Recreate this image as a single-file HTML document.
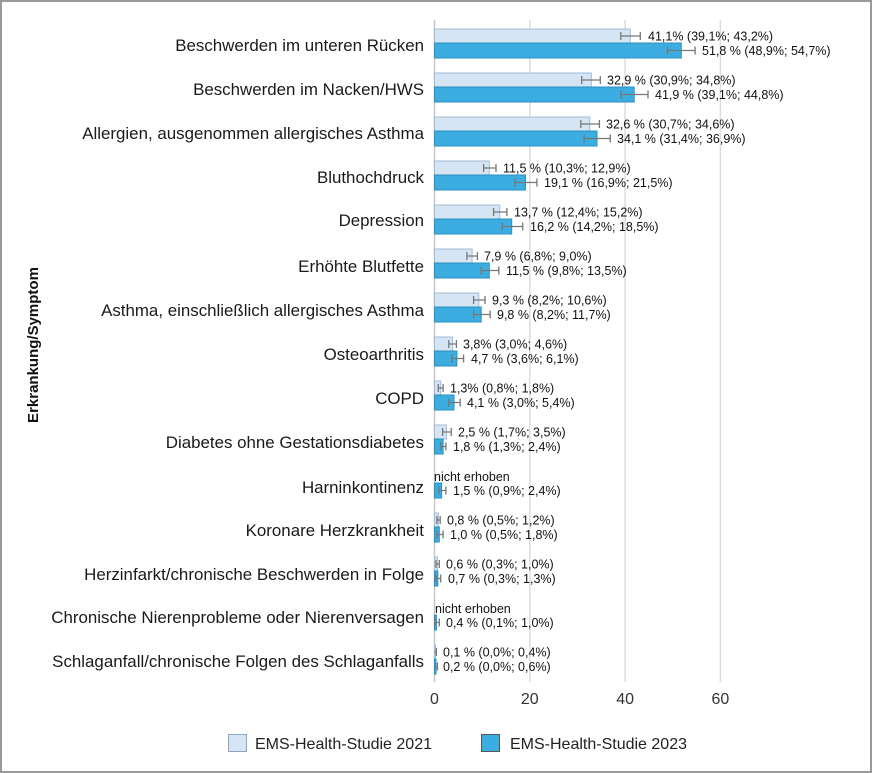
<!DOCTYPE html>
<html><head><meta charset="utf-8"><style>
html,body{margin:0;padding:0;background:#fff}
svg{display:block}
.c{font-family:"Liberation Sans",sans-serif;font-size:16.9px;fill:#1a1a1a;text-anchor:end}
.v{font-family:"Liberation Sans",sans-serif;font-size:12.5px;fill:#111}
.t{font-family:"Liberation Sans",sans-serif;font-size:16px;fill:#333;text-anchor:middle}
.a{fill:#d6e5f3;stroke:#a0bcd8;stroke-width:1}
.b{fill:#3cade0;stroke:#2b8fbf;stroke-width:1}
.e{stroke:#777;stroke-width:1.3;fill:none}
</style></head><body>
<svg width="872" height="773" viewBox="0 0 872 773" xmlns="http://www.w3.org/2000/svg">
<rect x="1" y="1" width="870" height="771" fill="#fff" stroke="#999" stroke-width="2"/>
<g stroke="#dcdcdc" stroke-width="1.5">
<line x1="529.8" y1="20" x2="529.8" y2="682"/>
<line x1="625.1" y1="20" x2="625.1" y2="682"/>
<line x1="720.4" y1="20" x2="720.4" y2="682"/>
</g>
<line x1="434.5" y1="20" x2="434.5" y2="682" stroke="#c8c8c8" stroke-width="1.5"/>
<text class="t" x="434.5" y="704">0</text>
<text class="t" x="529.8" y="704">20</text>
<text class="t" x="625.1" y="704">40</text>
<text class="t" x="720.4" y="704">60</text>
<text transform="translate(38,345) rotate(-90)" style="font-family:'Liberation Sans',sans-serif;font-size:15px;font-weight:bold;text-anchor:middle;fill:#111">Erkrankung/Symptom</text>

<g>
<text class="c" x="424" y="51">Beschwerden im unteren Rücken</text>
<text class="c" x="424" y="95">Beschwerden im Nacken/HWS</text>
<text class="c" x="424" y="139">Allergien, ausgenommen allergisches Asthma</text>
<text class="c" x="424" y="183">Bluthochdruck</text>
<text class="c" x="424" y="226">Depression</text>
<text class="c" x="424" y="272">Erhöhte Blutfette</text>
<text class="c" x="424" y="316">Asthma, einschließlich allergisches Asthma</text>
<text class="c" x="424" y="360">Osteoarthritis</text>
<text class="c" x="424" y="404">COPD</text>
<text class="c" x="424" y="448">Diabetes ohne Gestationsdiabetes</text>
<text class="c" x="424" y="493">Harninkontinenz</text>
<text class="c" x="424" y="536">Koronare Herzkrankheit</text>
<text class="c" x="424" y="580">Herzinfarkt/chronische Beschwerden in Folge</text>
<text class="c" x="424" y="623">Chronische Nierenprobleme oder Nierenversagen</text>
<text class="c" x="424" y="667">Schlaganfall/chronische Folgen des Schlaganfalls</text>
</g>

<g>
<rect class="a" x="434.5" y="29" width="195.8" height="14"/><rect class="b" x="434.5" y="43" width="246.8" height="15"/>
<rect class="a" x="434.5" y="73" width="156.8" height="14"/><rect class="b" x="434.5" y="87" width="199.7" height="15"/>
<rect class="a" x="434.5" y="117" width="155.3" height="14"/><rect class="b" x="434.5" y="131" width="162.5" height="15"/>
<rect class="a" x="434.5" y="161" width="54.8" height="14"/><rect class="b" x="434.5" y="175" width="91" height="15"/>
<rect class="a" x="434.5" y="205" width="65.3" height="14"/><rect class="b" x="434.5" y="219" width="77.2" height="15"/>
<rect class="a" x="434.5" y="249" width="37.6" height="14"/><rect class="b" x="434.5" y="263" width="54.8" height="15"/>
<rect class="a" x="434.5" y="293" width="44.3" height="14"/><rect class="b" x="434.5" y="307" width="46.7" height="15"/>
<rect class="a" x="434.5" y="337" width="18.1" height="14"/><rect class="b" x="434.5" y="351" width="22.4" height="15"/>
<rect class="a" x="434.5" y="381" width="6.2" height="14"/><rect class="b" x="434.5" y="395" width="19.5" height="15"/>
<rect class="a" x="434.5" y="425" width="11.9" height="14"/><rect class="b" x="434.5" y="439" width="8.6" height="15"/>
<rect class="b" x="434.5" y="483" width="7.1" height="15"/>
<rect class="a" x="434.5" y="513" width="3.8" height="14"/><rect class="b" x="434.5" y="527" width="4.8" height="15"/>
<rect class="a" x="434.5" y="557" width="2.9" height="14"/><rect class="b" x="434.5" y="571" width="3.3" height="15"/>
<rect class="b" x="434.5" y="615" width="1.9" height="15"/>
<rect class="a" x="434.5" y="645" width="1" height="14"/><rect class="b" x="434.5" y="659" width="1.5" height="15"/>
</g>

<path class="e" d="
M620.8 36H640.3M620.8 32V40M640.3 32V40
M667.5 50.5H695.1M667.5 46.5V54.5M695.1 46.5V54.5
M581.7 80H600.3M581.7 76V84M600.3 76V84
M620.8 94.5H648M620.8 90.5V98.5M648 90.5V98.5
M580.8 124H599.4M580.8 120V128M599.4 120V128
M584.1 138.5H610.3M584.1 134.5V142.5M610.3 134.5V142.5
M483.6 168H496M483.6 164V172M496 164V172
M515 182.5H536.9M515 178.5V186.5M536.9 178.5V186.5
M493.6 212H506.9M493.6 208V216M506.9 208V216
M502.2 226.5H522.7M502.2 222.5V230.5M522.7 222.5V230.5
M466.9 256H477.4M466.9 252V260M477.4 252V260
M481.2 270.5H498.8M481.2 266.5V274.5M498.8 266.5V274.5
M473.6 300H485M473.6 296V304M485 296V304
M473.6 314.5H490.2M473.6 310.5V318.5M490.2 310.5V318.5
M448.8 344H456.4M448.8 340V348M456.4 340V348
M451.7 358.5H463.6M451.7 354.5V362.5M463.6 354.5V362.5
M438.3 388H443.1M438.3 384V392M443.1 384V392
M448.8 402.5H460.2M448.8 398.5V406.5M460.2 398.5V406.5
M442.6 432H451.2M442.6 428V436M451.2 428V436
M440.7 446.5H445.9M440.7 442.5V450.5M445.9 442.5V450.5
M438.8 490.5H445.9M438.8 486.5V494.5M445.9 486.5V494.5
M436.9 520H440.2M436.9 516V524M440.2 516V524
M436.9 534.5H443.1M436.9 530.5V538.5M443.1 530.5V538.5
M435.9 564H439.3M435.9 560V568M439.3 560V568
M435.9 578.5H440.7M435.9 574.5V582.5M440.7 574.5V582.5
M435 622.5H439.3M435 618.5V626.5M439.3 618.5V626.5
M434.5 652H436.4M436.4 648V656
M434.5 666.5H437.4M437.4 662.5V670.5
"/>

<g class="v">
<text x="648" y="40.5">41,1% (39,1%; 43,2%)</text>
<text x="702" y="55">51,8 % (48,9%; 54,7%)</text>
<text x="607" y="84.5">32,9 % (30,9%; 34,8%)</text>
<text x="655" y="99">41,9 % (39,1%; 44,8%)</text>
<text x="606" y="128.5">32,6 % (30,7%; 34,6%)</text>
<text x="617" y="143">34,1 % (31,4%; 36,9%)</text>
<text x="503" y="172.5">11,5 % (10,3%; 12,9%)</text>
<text x="544" y="187">19,1 % (16,9%; 21,5%)</text>
<text x="514" y="216.5">13,7 % (12,4%; 15,2%)</text>
<text x="530" y="231">16,2 % (14,2%; 18,5%)</text>
<text x="484" y="260.5">7,9 % (6,8%; 9,0%)</text>
<text x="506" y="275">11,5 % (9,8%; 13,5%)</text>
<text x="492" y="304.5">9,3 % (8,2%; 10,6%)</text>
<text x="497" y="319">9,8 % (8,2%; 11,7%)</text>
<text x="463" y="348.5">3,8% (3,0%; 4,6%)</text>
<text x="471" y="363">4,7 % (3,6%; 6,1%)</text>
<text x="450" y="392.5">1,3% (0,8%; 1,8%)</text>
<text x="467" y="407">4,1 % (3,0%; 5,4%)</text>
<text x="458" y="436.5">2,5 % (1,7%; 3,5%)</text>
<text x="453" y="451">1,8 % (1,3%; 2,4%)</text>
<text x="434" y="481">nicht erhoben</text>
<text x="453" y="495">1,5 % (0,9%; 2,4%)</text>
<text x="447" y="524.5">0,8 % (0,5%; 1,2%)</text>
<text x="450" y="539">1,0 % (0,5%; 1,8%)</text>
<text x="446" y="568.5">0,6 % (0,3%; 1,0%)</text>
<text x="448" y="583">0,7 % (0,3%; 1,3%)</text>
<text x="435" y="613">nicht erhoben</text>
<text x="446" y="627">0,4 % (0,1%; 1,0%)</text>
<text x="443" y="656.5">0,1 % (0,0%; 0,4%)</text>
<text x="443" y="671">0,2 % (0,0%; 0,6%)</text>
</g>

<rect x="228.5" y="734.5" width="18" height="17" fill="#d6e5f3" stroke="#8aa6c0"/>
<text x="255" y="749" style="font-family:'Liberation Sans',sans-serif;font-size:16px;fill:#222">EMS-Health-Studie 2021</text>
<rect x="481.5" y="734.5" width="18" height="17" fill="#3cade0" stroke="#555"/>
<text x="510" y="749" style="font-family:'Liberation Sans',sans-serif;font-size:16px;fill:#222">EMS-Health-Studie 2023</text>
</svg>
</body></html>
